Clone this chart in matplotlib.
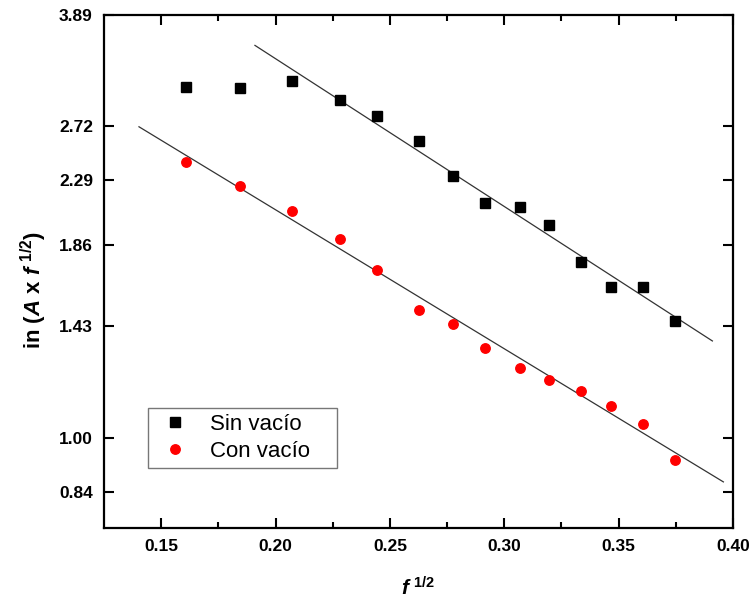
import numpy as np
import matplotlib
matplotlib.use("Agg")
import matplotlib.pyplot as plt
from matplotlib.ticker import FixedLocator, FixedFormatter, NullLocator

plt.rcParams['font.family'] = ['Liberation Sans', 'DejaVu Sans']
plt.rcParams['mathtext.fontset'] = 'custom'
plt.rcParams['mathtext.rm'] = 'Liberation Sans:bold'
plt.rcParams['mathtext.it'] = 'Liberation Sans:italic:bold'
plt.rcParams['mathtext.bf'] = 'Liberation Sans:bold'

# Data
f_sqrt = [0.1609, 0.1845, 0.2073, 0.2282, 0.2444, 0.2628, 0.2777, 0.2916,
          0.3069, 0.3196, 0.3336, 0.3467, 0.3607, 0.3747]
sin_vacio = [3.082, 3.073, 3.142, 2.956, 2.811, 2.597, 2.318, 2.125,
             2.097, 1.979, 1.760, 1.625, 1.621, 1.454]
con_vacio = [2.427, 2.243, 2.070, 1.894, 1.714, 1.506, 1.440, 1.335,
             1.252, 1.205, 1.162, 1.106, 1.044, 0.932]

# Fit lines (endpoints)
fit_sin_x = [0.1910, 0.3910]
fit_sin_y = [3.528, 1.3645]
fit_con_x = [0.1403, 0.3958]
fit_con_y = [2.716, 0.8675]

y_ticks = [0.84, 1.00, 1.43, 1.86, 2.29, 2.72, 3.89]
y_tick_labels = ['0.84', '1.00', '1.43', '1.86', '2.29', '2.72', '3.89']
x_ticks = [0.15, 0.20, 0.25, 0.30, 0.35, 0.40]
x_minor_ticks = [0.175, 0.225, 0.275, 0.325, 0.375]

fig = plt.figure(figsize=(7.53, 6.02), dpi=100)
ax = fig.add_axes([0.1381, 0.1229, 0.8353, 0.8522])

ax.plot(fit_sin_x, fit_sin_y, color='#333333', lw=0.9)
ax.plot(fit_con_x, fit_con_y, color='#333333', lw=0.9)
ax.plot(f_sqrt, sin_vacio, 's', color='black', ms=6.8, ls='none', label='Sin vacío')
ax.plot(f_sqrt, con_vacio, 'o', color='red', ms=6.8, ls='none', label='Con vacío')

ax.set_yscale('log')
ax.set_xlim(0.125, 0.40)
ax.set_ylim(0.748, 3.89)
ax.yaxis.set_major_locator(FixedLocator(y_ticks))
ax.yaxis.set_major_formatter(FixedFormatter(y_tick_labels))
ax.yaxis.set_minor_locator(NullLocator())
ax.xaxis.set_major_locator(FixedLocator(x_ticks))
ax.set_xticks(x_minor_ticks, minor=True)
ax.set_xticklabels(['%.2f' % v for v in x_ticks])

for sp in ax.spines.values():
    sp.set_linewidth(1.6)

ax.tick_params(which='major', direction='in', length=7, width=1.5,
               top=True, right=True, labelsize=12.5, pad=8)
ax.tick_params(which='minor', direction='in', length=4, width=1.5,
               top=True, right=True)
for lab in ax.get_xticklabels() + ax.get_yticklabels():
    lab.set_fontweight('bold')

ax.set_xlabel(r'$f^{\ 1/2}$', fontsize=15, labelpad=16)
ax.set_ylabel(r'in ($A$ x $f^{\ 1/2}$)', fontsize=16, fontweight='bold')
ax.yaxis.set_label_coords(-0.088, 0.464)

leg = ax.legend(loc='lower left', bbox_to_anchor=(0.07, 0.117, 0.3005, 0.01),
                mode='expand', borderaxespad=0,
                fontsize=16, frameon=True, fancybox=False, edgecolor='#555555',
                handletextpad=0.6, borderpad=0.28, labelspacing=0.25,
                handlelength=1.9)
leg.get_frame().set_linewidth(1.0)

fig.savefig('out.png', dpi=100)
